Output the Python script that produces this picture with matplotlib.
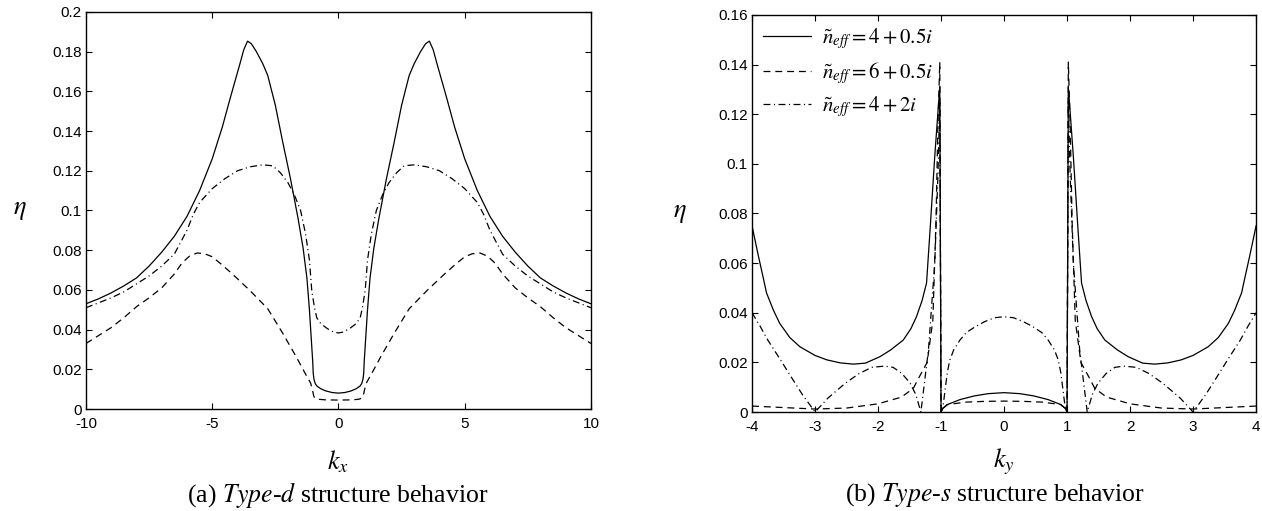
import matplotlib
matplotlib.use('Agg')
import matplotlib.pyplot as plt

plt.rcParams['mathtext.fontset'] = 'stix'
plt.rcParams['font.family'] = 'Liberation Sans'
plt.rcParams['axes.unicode_minus'] = False
plt.rcParams['lines.scale_dashes'] = False

# (a) Type-d structure: eta vs kx
kx_solid = [-10, -9.5, -9, -8.5, -8, -7.5, -7, -6.5, -6, -5.5, -5, -4.6, -4.3, -4.1, -3.9, -3.75, -3.6, -3.45,
            -3.25, -3.0, -2.8, -2.5, -2.2, -1.9, -1.6, -1.4, -1.25, -1.15, -1.07, -1.02, -1.0, -0.97,
            -0.92, -0.85, -0.7, -0.5, -0.25, 0,
            0.25, 0.5, 0.7, 0.85, 0.92, 0.97, 1.0, 1.02, 1.07, 1.15, 1.25, 1.4, 1.6, 1.9, 2.2, 2.5,
            2.8, 3.0, 3.25, 3.45, 3.6, 3.75, 3.9, 4.1, 4.3, 4.6, 5, 5.5, 6, 6.5, 7, 7.5, 8, 8.5, 9, 9.5, 10]
eta_solid = [0.053, 0.0555, 0.0585, 0.062, 0.066, 0.072, 0.079, 0.087, 0.097, 0.110, 0.126, 0.142, 0.156, 0.165, 0.174, 0.181, 0.1853, 0.184,
             0.180, 0.174, 0.168, 0.153, 0.134, 0.116, 0.096, 0.081, 0.066, 0.050, 0.034, 0.024, 0.018, 0.015,
             0.0128, 0.0115, 0.0102, 0.0091, 0.0083, 0.008,
             0.0083, 0.0091, 0.0102, 0.0115, 0.0128, 0.015, 0.018, 0.024, 0.034, 0.050, 0.066, 0.081, 0.096, 0.116, 0.134, 0.153,
             0.168, 0.174, 0.180, 0.184, 0.1853, 0.181, 0.174, 0.165, 0.156, 0.142, 0.126, 0.110, 0.097, 0.087, 0.079, 0.072, 0.066, 0.062, 0.0585, 0.0555, 0.053]

kx_dash = [-10, -9.5, -9, -8.5, -8, -7.5, -7, -6.5, -6.2, -5.9, -5.6, -5.3, -5.0, -4.6, -4.2, -3.5, -2.8, -2.2, -1.66,
           -1.3, -1.1, -1.02, -0.98, -0.93, -0.8, -0.5, 0,
           0.5, 0.8, 0.93, 0.98, 1.02, 1.1, 1.3,
           1.66, 2.2, 2.8, 3.5, 4.2, 4.6, 5.0, 5.3, 5.6, 5.9, 6.2, 6.5, 7, 7.5, 8, 8.5, 9, 9.5, 10]
eta_dash = [0.033, 0.037, 0.041, 0.046, 0.0515, 0.056, 0.061, 0.068, 0.0735, 0.077, 0.0786, 0.0782, 0.0767, 0.0725, 0.068, 0.0596, 0.0505, 0.038, 0.026,
            0.0175, 0.013, 0.009, 0.0065, 0.0055, 0.0049, 0.0046, 0.0045,
            0.0046, 0.0049, 0.0055, 0.0065, 0.009, 0.013, 0.0175,
            0.026, 0.038, 0.0505, 0.0596, 0.068, 0.0725, 0.0767, 0.0782, 0.0786, 0.077, 0.0735, 0.068, 0.061, 0.056, 0.0515, 0.046, 0.041, 0.037, 0.033]

kx_dd = [-10, -9.5, -9, -8.5, -8, -7.5, -7, -6.5, -6.0, -5.75, -5.5, -5.0, -4.5, -4.0, -3.5, -3.0, -2.6, -2.3, -2.0,
         -1.75, -1.5, -1.3, -1.15, -1.06, -0.95, -0.86, -0.7, -0.44, -0.2, 0,
         0.2, 0.44, 0.7, 0.86, 0.95, 1.06, 1.15, 1.3, 1.5, 1.75,
         2.0, 2.3, 2.6, 3.0, 3.5, 4.0, 4.5, 5.0, 5.5, 5.75, 6.0, 6.5, 7, 7.5, 8, 8.5, 9, 9.5, 10]
eta_dd = [0.051, 0.0535, 0.056, 0.059, 0.063, 0.067, 0.072, 0.078, 0.090, 0.098, 0.104, 0.111, 0.116, 0.120, 0.122, 0.123, 0.1225, 0.119, 0.114,
          0.108, 0.100, 0.088, 0.075, 0.060, 0.051, 0.046, 0.043, 0.0405, 0.0388, 0.0383,
          0.0388, 0.0405, 0.043, 0.046, 0.051, 0.060, 0.075, 0.088, 0.100, 0.108,
          0.114, 0.119, 0.1225, 0.123, 0.122, 0.120, 0.116, 0.111, 0.104, 0.098, 0.090, 0.078, 0.072, 0.067, 0.063, 0.059, 0.056, 0.0535, 0.051]

# (b) Type-s structure: eta vs ky
ky_solid = [-4, -3.95, -3.9, -3.83, -3.77, -3.66, -3.56, -3.4, -3.24, -3.0, -2.81, -2.6, -2.39, -2.2, -1.97, -1.8, -1.6,
            -1.48, -1.39, -1.3, -1.23, -1.17, -1.1, -1.02, -1.0,
            -0.97, -0.9, -0.84, -0.7, -0.47, -0.25, 0, 0.25, 0.47, 0.7, 0.84, 0.9, 0.97,
            1.0, 1.02, 1.1, 1.17, 1.23, 1.3, 1.39, 1.48,
            1.6, 1.8, 1.97, 2.2, 2.39, 2.6, 2.81, 3.0, 3.24, 3.4, 3.56, 3.66, 3.77, 3.83, 3.9, 3.95, 4]
etb_solid = [0.075, 0.069, 0.063, 0.055, 0.048, 0.041, 0.0357, 0.030, 0.0263, 0.0228, 0.021, 0.0198, 0.0193, 0.0197, 0.0223, 0.025, 0.029,
             0.0335, 0.0384, 0.045, 0.052, 0.075, 0.103, 0.131, 0.0,
             0.0015, 0.003, 0.0036, 0.005, 0.0065, 0.0074, 0.0078, 0.0074, 0.0065, 0.005, 0.0036, 0.003, 0.0015,
             0.0, 0.131, 0.103, 0.075, 0.052, 0.045, 0.0384, 0.0335,
             0.029, 0.025, 0.0223, 0.0197, 0.0193, 0.0198, 0.021, 0.0228, 0.0263, 0.030, 0.0357, 0.041, 0.048, 0.055, 0.063, 0.069, 0.075]

ky_dash = [-4, -3.5, -3.0, -2.5, -2.0, -1.63, -1.44, -1.37, -1.22, -1.13, -1.08, -1.05, -1.02, -1.0,
           -0.97, -0.9, -0.6, -0.3, 0, 0.3, 0.6, 0.9, 0.97,
           1.0, 1.02, 1.05, 1.08, 1.13, 1.22, 1.37, 1.44, 1.63, 2.0, 2.5, 3.0, 3.5, 4]
etb_dash = [0.0024, 0.0018, 0.0012, 0.0016, 0.0033, 0.006, 0.0095, 0.013, 0.020, 0.037, 0.077, 0.115, 0.141, 0.0,
            0.0015, 0.003, 0.004, 0.0043, 0.0044, 0.0043, 0.004, 0.003, 0.0015,
            0.0, 0.141, 0.115, 0.077, 0.037, 0.020, 0.013, 0.0095, 0.006, 0.0033, 0.0016, 0.0012, 0.0018, 0.0024]

ky_dd = [-4, -3.87, -3.75, -3.56, -3.38, -3.2, -3.0, -2.8, -2.52, -2.3, -2.1, -1.9, -1.76, -1.62, -1.49, -1.4, -1.32,
         -1.2, -1.1, -1.05, -1.02, -1.0,
         -0.97, -0.93, -0.9, -0.86, -0.8, -0.7, -0.6, -0.45, -0.3, -0.15, 0,
         0.15, 0.3, 0.45, 0.6, 0.7, 0.8, 0.86, 0.9, 0.93, 0.97,
         1.0, 1.02, 1.05, 1.1, 1.2,
         1.32, 1.4, 1.49, 1.62, 1.76, 1.9, 2.1, 2.3, 2.52, 2.8, 3.0, 3.2, 3.38, 3.56, 3.75, 3.87, 4]
etb_dd = [0.040, 0.0345, 0.029, 0.0215, 0.0142, 0.007, 0.0, 0.0055, 0.0116, 0.0155, 0.018, 0.0185, 0.018, 0.0155, 0.0116, 0.007, 0.0,
          0.025, 0.060, 0.095, 0.125, 0.0,
          0.002, 0.010, 0.016, 0.021, 0.025, 0.029, 0.032, 0.0345, 0.0365, 0.038, 0.0384,
          0.038, 0.0365, 0.0345, 0.032, 0.029, 0.025, 0.021, 0.016, 0.010, 0.002,
          0.0, 0.125, 0.095, 0.060, 0.025,
          0.0, 0.007, 0.0116, 0.0155, 0.018, 0.0185, 0.018, 0.0155, 0.0116, 0.0055, 0.0, 0.007, 0.0142, 0.0215, 0.029, 0.0345, 0.040]

legend_labels = [r'$\tilde{n}_{eff} = 4+0.5i$', r'$\tilde{n}_{eff} = 6+0.5i$', r'$\tilde{n}_{eff} = 4+2i$']

lw = 0.9
dash = (5, 3.5)
dashdot = (5, 2.5, 0.8, 2.5)

fig = plt.figure(figsize=(12.62, 5.11), dpi=100)
ax1 = fig.add_axes([0.0681, 0.1996, 0.4002, 0.777])
ax2 = fig.add_axes([0.5959, 0.1937, 0.3994, 0.777])

ax1.plot(kx_solid, eta_solid, color='k', lw=lw)
ax1.plot(kx_dash, eta_dash, color='k', lw=lw, dashes=dash)
ax1.plot(kx_dd, eta_dd, color='k', lw=lw, dashes=dashdot)
ax1.set_xlim(-10, 10)
ax1.set_ylim(0, 0.2)
ax1.set_xticks([-10, -5, 0, 5, 10])
ax1.set_xticklabels(['-10', '-5', '0', '5', '10'])
ax1.set_yticks([0, 0.02, 0.04, 0.06, 0.08, 0.1, 0.12, 0.14, 0.16, 0.18, 0.2])
ax1.set_yticklabels(['0', '0.02', '0.04', '0.06', '0.08', '0.1', '0.12', '0.14', '0.16', '0.18', '0.2'])

ax2.plot(ky_solid, etb_solid, color='k', lw=lw, label=legend_labels[0])
ax2.plot(ky_dash, etb_dash, color='k', lw=lw, dashes=dash, label=legend_labels[1])
ax2.plot(ky_dd, etb_dd, color='k', lw=lw, dashes=dashdot, label=legend_labels[2])
ax2.set_xlim(-4, 4)
ax2.set_ylim(0, 0.16)
ax2.set_xticks([-4, -3, -2, -1, 0, 1, 2, 3, 4])
ax2.set_xticklabels(['-4', '-3', '-2', '-1', '0', '1', '2', '3', '4'])
ax2.set_yticks([0, 0.02, 0.04, 0.06, 0.08, 0.1, 0.12, 0.14, 0.16])
ax2.set_yticklabels(['0', '0.02', '0.04', '0.06', '0.08', '0.1', '0.12', '0.14', '0.16'])
ax2.legend(loc='upper left', frameon=False, fontsize=15, handlelength=2.3,
           handletextpad=0.5, labelspacing=0.4, borderaxespad=0.15)

for ax in (ax1, ax2):
    ax.tick_params(direction='in', top=True, right=True, labelsize=11, length=4, width=0.8, pad=3)
    ax.tick_params(axis='x', pad=6)
    for s in ax.spines.values():
        s.set_linewidth(1.0)

ax1.set_ylabel(r'$\eta$', fontsize=19, rotation=0, va='center', ha='center')
ax1.yaxis.set_label_coords(-0.131, 0.5)
ax1.set_xlabel(r'$k_x$', fontsize=19, va='top')
ax1.xaxis.set_label_coords(0.5, -0.10)
ax2.set_ylabel(r'$\eta$', fontsize=19, rotation=0, va='center', ha='center')
ax2.yaxis.set_label_coords(-0.143, 0.5)
ax2.set_xlabel(r'$k_y$', fontsize=19, va='top')
ax2.xaxis.set_label_coords(0.5, -0.088)

fig.text(338 / 1262, 1 - 495 / 511, r'(a) $\mathit{Type}$-$\mathit{d}$ structure behavior',
         fontsize=18.5, family='Liberation Serif', ha='center', va='center')
fig.text(995 / 1262, 1 - 495 / 511, r'(b) $\mathit{Type}$-$\mathit{s}$ structure behavior',
         fontsize=18.5, family='Liberation Serif', ha='center', va='center')

fig.savefig('out.png', dpi=100)
